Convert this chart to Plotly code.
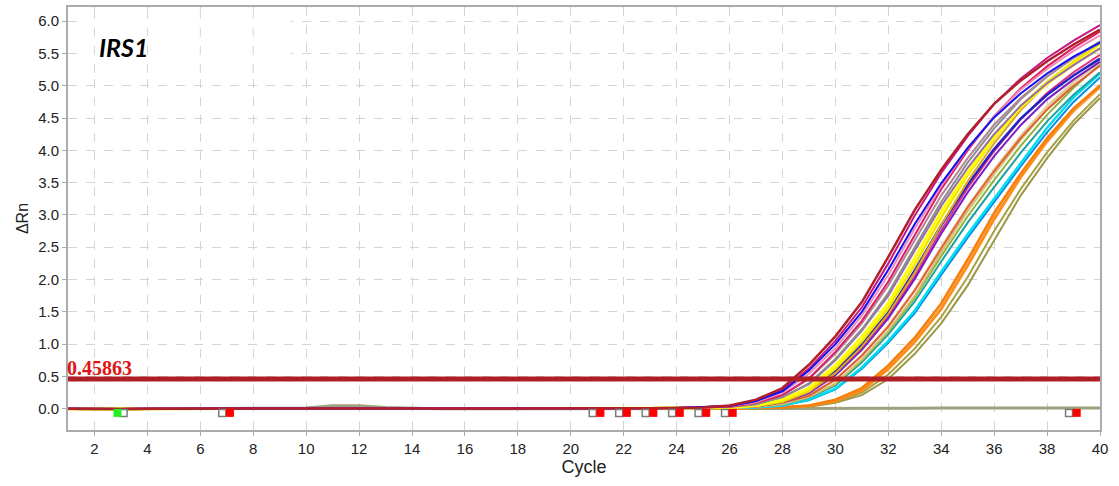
import plotly.graph_objects as go

# ---------------- data ----------------
cycles = list(range(1, 41))

# pre-amplification readings (cycles 1-25), shared by amplified wells
shared_baseline = [0.00, -0.005, -0.005, 0.00, 0.00, 0.00, 0.00, 0.00, 0.00, 0.00,
                   0.00, 0.00, 0.00, 0.00, 0.00, 0.00, -0.005, -0.005, 0.00, 0.00,
                   0.00, 0.00, 0.005, 0.01, 0.02]

# non-amplifying well (cycles 1-40)
flat_well = [0.00, -0.005, -0.005, 0.00, 0.00, 0.00, 0.00, 0.00, 0.00, 0.01,
             0.045, 0.045, 0.02, 0.005, 0.00, 0.00, 0.00, -0.005, -0.005, 0.00,
             0.00, 0.00, 0.00, 0.00, 0.00, 0.005, 0.005, 0.005, 0.005, 0.005,
             0.005, 0.005, 0.005, 0.01, 0.01, 0.01, 0.01, 0.01, 0.01, 0.01]

# amplified wells, cycles 26-40
well_firebrick = [0.05, 0.14, 0.32, 0.68, 1.12, 1.65, 2.35, 3.08, 3.70, 4.25, 4.72, 5.08, 5.38, 5.64, 5.87]
well_blue = [0.04, 0.12, 0.27, 0.59, 1.00, 1.50, 2.15, 2.86, 3.49, 4.04, 4.51, 4.88, 5.19, 5.45, 5.67]
well_violetred = [0.04, 0.12, 0.29, 0.62, 1.05, 1.57, 2.25, 2.99, 3.65, 4.22, 4.72, 5.11, 5.43, 5.70, 5.94]
well_pink = [0.04, 0.10, 0.25, 0.54, 0.94, 1.44, 2.07, 2.79, 3.45, 4.03, 4.53, 4.94, 5.26, 5.54, 5.78]
well_crimson = [0.03, 0.09, 0.21, 0.47, 0.88, 1.36, 1.97, 2.69, 3.40, 4.00, 4.53, 4.96, 5.30, 5.59, 5.84]
well_mauve = [0.03, 0.09, 0.21, 0.46, 0.85, 1.32, 1.91, 2.61, 3.30, 3.88, 4.40, 4.81, 5.15, 5.43, 5.67]
well_grey = [0.03, 0.07, 0.18, 0.39, 0.77, 1.23, 1.79, 2.50, 3.20, 3.81, 4.34, 4.79, 5.14, 5.43, 5.69]
well_plum = [0.03, 0.07, 0.18, 0.38, 0.75, 1.21, 1.75, 2.45, 3.14, 3.73, 4.25, 4.69, 5.04, 5.32, 5.58]
well_yellow = [0.02, 0.05, 0.14, 0.32, 0.67, 1.11, 1.63, 2.33, 3.05, 3.66, 4.21, 4.67, 5.03, 5.33, 5.58]
well_yellow2 = [0.02, 0.04, 0.12, 0.28, 0.62, 1.04, 1.56, 2.23, 2.96, 3.62, 4.18, 4.68, 5.06, 5.37, 5.65]
well_goldenrod = [0.02, 0.04, 0.10, 0.26, 0.55, 0.96, 1.47, 2.11, 2.85, 3.52, 4.11, 4.62, 5.04, 5.37, 5.65]
well_darkblue = [0.02, 0.04, 0.12, 0.27, 0.59, 1.00, 1.49, 2.14, 2.84, 3.47, 4.02, 4.49, 4.86, 5.16, 5.42]
well_violet = [0.02, 0.04, 0.10, 0.24, 0.52, 0.91, 1.40, 2.01, 2.71, 3.35, 3.91, 4.39, 4.79, 5.10, 5.37]
well_hotpink = [0.02, 0.04, 0.10, 0.25, 0.53, 0.93, 1.43, 2.05, 2.76, 3.42, 3.99, 4.48, 4.89, 5.21, 5.48]
well_tomato = [0.02, 0.03, 0.09, 0.20, 0.45, 0.82, 1.27, 1.83, 2.48, 3.12, 3.68, 4.19, 4.63, 5.00, 5.31]
well_tan = [0.02, 0.03, 0.09, 0.21, 0.45, 0.83, 1.28, 1.84, 2.50, 3.13, 3.70, 4.22, 4.68, 5.06, 5.36]
well_khaki = [0.01, 0.03, 0.07, 0.18, 0.39, 0.76, 1.21, 1.75, 2.42, 3.06, 3.63, 4.16, 4.64, 5.05, 5.40]
well_yellowgreen = [0.01, 0.03, 0.07, 0.18, 0.38, 0.75, 1.19, 1.72, 2.36, 2.98, 3.54, 4.07, 4.55, 4.97, 5.33]
well_teal = [0.01, 0.03, 0.07, 0.17, 0.36, 0.72, 1.15, 1.66, 2.28, 2.88, 3.43, 3.96, 4.45, 4.86, 5.21]
well_cyan = [0.01, 0.02, 0.05, 0.14, 0.31, 0.64, 1.05, 1.52, 2.12, 2.70, 3.25, 3.80, 4.35, 4.82, 5.19]
well_skyblue = [0.01, 0.02, 0.05, 0.13, 0.30, 0.62, 1.02, 1.48, 2.07, 2.65, 3.20, 3.75, 4.28, 4.75, 5.13]
well_orange = [0.00, 0.01, 0.02, 0.05, 0.14, 0.32, 0.67, 1.10, 1.63, 2.31, 3.03, 3.64, 4.19, 4.65, 5.00]
well_orange2 = [0.00, 0.01, 0.02, 0.04, 0.12, 0.28, 0.61, 1.03, 1.54, 2.21, 2.93, 3.58, 4.14, 4.63, 5.01]
well_orange3 = [0.00, 0.01, 0.02, 0.04, 0.13, 0.30, 0.63, 1.05, 1.56, 2.24, 2.96, 3.58, 4.13, 4.60, 4.97]
well_olive = [0.00, 0.00, 0.02, 0.04, 0.10, 0.25, 0.53, 0.93, 1.42, 2.04, 2.75, 3.40, 3.97, 4.46, 4.87]
well_olive2 = [0.00, 0.00, 0.01, 0.03, 0.09, 0.21, 0.46, 0.85, 1.32, 1.91, 2.61, 3.30, 3.88, 4.40, 4.81]

threshold_value = 0.45863
marker_cycles = [7, 21, 22, 23, 24, 25, 26, 39]
green_marker_cycles = [3]
x_tick_values = list(range(2, 41, 2))
y_tick_values = [0.0, 0.5, 1.0, 1.5, 2.0, 2.5, 3.0, 3.5, 4.0, 4.5, 5.0, 5.5, 6.0]

# draw order: latest wells first, earliest (firebrick) on top
amplified = [
    (well_olive2, "#9C9848", 2), (well_olive, "#A8A040", 2),
    (well_orange3, "#FFA040", 2), (well_orange2, "#FF8C1A", 2.5), (well_orange, "#F57F0A", 2.5),
    (well_skyblue, "#0A8CE6", 2), (well_cyan, "#00DCF0", 2.5), (well_teal, "#1EA0A0", 2),
    (well_yellowgreen, "#8CB43C", 2), (well_khaki, "#D2BE6E", 2), (well_tan, "#E6CD96", 2.5),
    (well_tomato, "#E0603A", 2), (well_hotpink, "#E0307A", 2), (well_violet, "#7A1FC8", 2),
    (well_darkblue, "#2323C8", 2.5), (well_goldenrod, "#DAA520", 2), (well_yellow2, "#F2E600", 2.5),
    (well_yellow, "#FFFF00", 3), (well_plum, "#9A6AAE", 2), (well_grey, "#8C8C8C", 2),
    (well_mauve, "#B08898", 2), (well_crimson, "#DC1E64", 2), (well_pink, "#F08CB8", 2),
    (well_violetred, "#C71585", 2), (well_blue, "#1010F0", 2), (well_firebrick, "#B0202A", 2.5),
]

fig = go.Figure()

fig.add_trace(go.Scatter(x=cycles, y=flat_well, mode="lines",
                         line=dict(color="#A0A07E", width=3), hoverinfo="skip"))

for vals, color, width in amplified:
    fig.add_trace(go.Scatter(x=cycles, y=shared_baseline + vals, mode="lines",
                             line=dict(color=color, width=width), hoverinfo="skip"))

# threshold
fig.add_trace(go.Scatter(x=[cycles[0], cycles[-1]], y=[threshold_value, threshold_value],
                         mode="lines", line=dict(color="#AE1E24", width=5), hoverinfo="skip"))

# baseline start/end markers
marker_y = -0.065
fig.add_trace(go.Scatter(x=[c - 0.17 for c in marker_cycles], y=[marker_y] * len(marker_cycles),
                         mode="markers", marker=dict(symbol="square", size=7, color="white",
                                                     line=dict(color="#7A7A7A", width=1.5)),
                         hoverinfo="skip"))
fig.add_trace(go.Scatter(x=[c + 0.12 for c in marker_cycles], y=[marker_y] * len(marker_cycles),
                         mode="markers", marker=dict(symbol="square", size=8, color="#FF0000",
                                                     line=dict(width=0)),
                         hoverinfo="skip"))
fig.add_trace(go.Scatter(x=[c + 0.1 for c in green_marker_cycles], y=[marker_y] * len(green_marker_cycles),
                         mode="markers", marker=dict(symbol="square", size=7, color="white",
                                                     line=dict(color="#7A7A7A", width=1.5)),
                         hoverinfo="skip"))
fig.add_trace(go.Scatter(x=[c - 0.13 for c in green_marker_cycles], y=[marker_y] * len(green_marker_cycles),
                         mode="markers", marker=dict(symbol="square", size=8, color="#22EE22",
                                                     line=dict(width=0)),
                         hoverinfo="skip"))

# white label box that hides the horizontal grid lines behind the gene name
fig.add_shape(type="rect", xref="x", yref="y", x0=1.35, x1=9.4, y0=5.2, y1=6.15,
              fillcolor="white", line=dict(width=0), layer="between")
for gx in [2, 4, 6, 8]:
    fig.add_shape(type="line", xref="x", yref="y", x0=gx, x1=gx, y0=5.2, y1=6.15,
                  line=dict(color="#D4D4D4", width=1, dash="dash"), layer="between")

fig.add_annotation(x=cycles[0], y=threshold_value, xref="x", yref="y",
                   text="<b>0.45863</b>", showarrow=False, xanchor="left", yanchor="bottom",
                   yshift=-1, xshift=-2, borderpad=0,
                   font=dict(family="Liberation Serif", size=20, color="#E01414"))

fig.add_annotation(x=0.054, y=0.905, xref="paper", yref="paper",
                   text="<b><i>IRS1</i></b>", showarrow=False, xanchor="center", yanchor="middle",
                   font=dict(family="Lato", size=25, color="#000000"))

axis_common = dict(
    showgrid=True, gridcolor="#D4D4D4", griddash="dash", gridwidth=1,
    showline=True, linecolor="#ABABAB", linewidth=2, mirror=True,
    ticks="outside", ticklen=4, tickcolor="#ABABAB", tickwidth=1,
    zeroline=False,
    tickfont=dict(family="Liberation Sans", size=15, color="#222222"),
)

fig.update_xaxes(range=[1, 40], tickvals=x_tick_values,
                 title=dict(text="Cycle", font=dict(family="Liberation Sans", size=18, color="#222222"),
                            standoff=4),
                 **axis_common)
fig.update_yaxes(range=[-0.33, 6.22], tickvals=y_tick_values,
                 ticktext=[f"{v:.1f}" for v in y_tick_values],
                 title=dict(text="ΔRn", font=dict(family="Liberation Sans", size=16, color="#222222"),
                            standoff=6),
                 **axis_common)

fig.update_layout(
    width=1119, height=486,
    margin=dict(l=68, r=19, t=7, b=56, autoexpand=False),
    paper_bgcolor="white", plot_bgcolor="white",
    showlegend=False,
)

fig.write_html("out.html", config={"displayModeBar": False},
               post_script="document.body.style.margin='0px';")
